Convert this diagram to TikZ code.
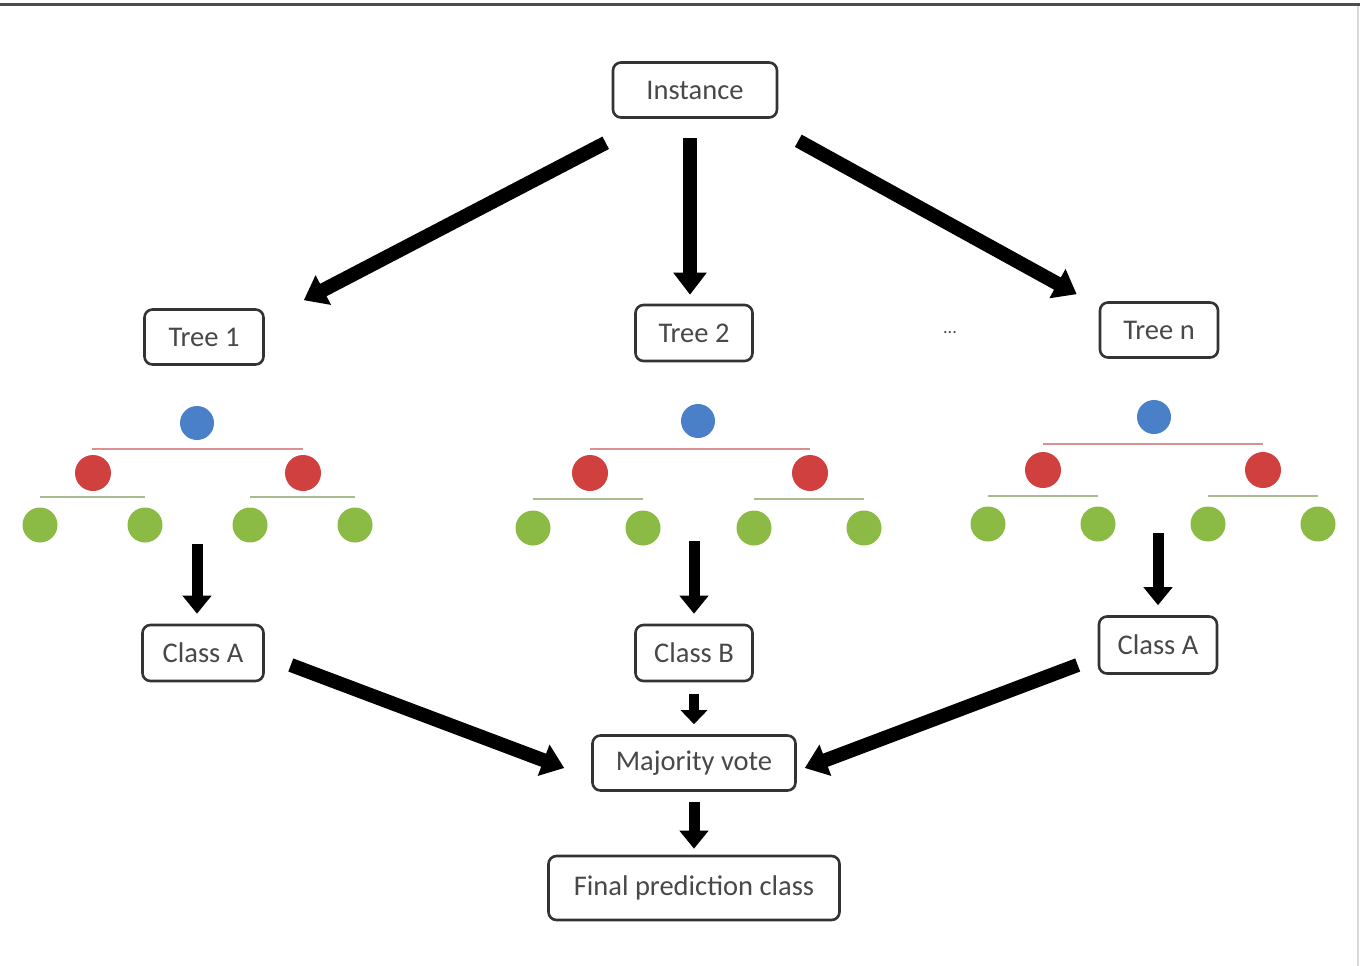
\documentclass[tikz,border=0pt]{standalone}
\usepackage{fontspec}
\setmainfont{Carlito}
\usetikzlibrary{arrows.meta}
\definecolor{txt}{HTML}{484848}
\definecolor{boxc}{HTML}{333333}
\definecolor{nblue}{HTML}{4A80C8}
\definecolor{nred}{HTML}{D0403F}
\definecolor{ngreen}{HTML}{8BBA45}
\definecolor{lred}{HTML}{D89090}
\definecolor{lgreen}{HTML}{A8BC90}
\tikzset{
  box/.style={draw=boxc, line width=2.6pt, rounded corners=8pt, fill=white, text=txt,
    font=\fontsize{28.5}{30}\selectfont, inner sep=0pt, anchor=center},
  big/.style={line width=14pt, -{Triangle[length=22pt,width=32pt]}},
  small/.style={line width=11pt, -{Triangle[length=18pt,width=28pt]}},
  tiny/.style={line width=10pt, -{Triangle[length=14pt,width=26pt]}},
  root/.style={circle, fill=nblue, minimum size=34pt, inner sep=0pt},
  mid/.style={circle, fill=nred, minimum size=36pt, inner sep=0pt},
  leaf/.style={circle, fill=ngreen, minimum size=35pt, inner sep=0pt},
  redline/.style={draw=lred, line width=2.2pt},
  greenline/.style={draw=lgreen, line width=2.2pt}
}
\begin{document}
\begin{tikzpicture}[x=1pt,y=-1pt]
\useasboundingbox (0,0) rectangle (1360,966);
\fill[white] (0,0) rectangle (1360,966);
\draw[draw=black!70, line width=3pt] (0,5) -- (1360,5);
\draw[draw=black!15, line width=1.5pt] (1358,6) -- (1358,966);

% boxes
\node[box, minimum width=164pt, minimum height=55pt] (inst) at (695,90) {Instance};
\node[box, minimum width=119pt, minimum height=55pt] (t1) at (204,337) {Tree 1};
\node[box, minimum width=117pt, minimum height=56pt] (t2) at (694,333) {Tree 2};
\node[text=txt, font=\fontsize{18}{20}\selectfont] (dots) at (950,333) {...};
\node[box, minimum width=118pt, minimum height=55pt] (tn) at (1159,330) {Tree n};
\node[box, minimum width=121pt, minimum height=56pt] (ca1) at (203,653) {Class A};
\node[box, minimum width=117pt, minimum height=56pt] (cb) at (694,653) {Class B};
\node[box, minimum width=118pt, minimum height=57pt] (ca2) at (1158,645) {Class A};
\node[box, minimum width=203pt, minimum height=55pt] (mv) at (694,763) {Majority vote};
\node[box, minimum width=291pt, minimum height=64pt] (fp) at (694,888) {Final prediction class};

% tree 1
\draw[redline] (92,449) -- (303,449);
\draw[greenline] (40,497) -- (145,497) (250,497) -- (355,497);
\node[root] (r1) at (197,423) {};
\node[mid] (m11) at (93,473) {};
\node[mid] (m12) at (303,473) {};
\node[leaf] (l11) at (40,525) {};
\node[leaf] (l12) at (145,525) {};
\node[leaf] (l13) at (250,525) {};
\node[leaf] (l14) at (355,525) {};
% tree 2
\draw[redline] (590,449) -- (810,449);
\draw[greenline] (533,499) -- (643,499) (754,499) -- (864,499);
\node[root] (r2) at (698,421) {};
\node[mid] (m21) at (590,473) {};
\node[mid] (m22) at (810,473) {};
\node[leaf] (l21) at (533,528) {};
\node[leaf] (l22) at (643,528) {};
\node[leaf] (l23) at (754,528) {};
\node[leaf] (l24) at (864,528) {};
% tree n
\draw[redline] (1043,444) -- (1263,444);
\draw[greenline] (988,496) -- (1098,496) (1208,496) -- (1318,496);
\node[root] (r3) at (1154,417) {};
\node[mid] (m31) at (1043,470) {};
\node[mid] (m32) at (1263,470) {};
\node[leaf] (l31) at (988,524) {};
\node[leaf] (l32) at (1098,524) {};
\node[leaf] (l33) at (1208,524) {};
\node[leaf] (l34) at (1318,524) {};

% arrows
\draw[big] ([shift={(-6,24)}]inst.south west) -- ([shift={(39,-8)}]t1.north east);
\draw[big] ([shift={(-5,19)}]inst.south) -- ([shift={(-4,-9)}]t2.north);
\draw[big] ([shift={(20,22)}]inst.south east) -- ([shift={(-22,-7)}]tn.north west);
\draw[small] ([shift={(-6,-80)}]ca1.north) -- ([shift={(-6,-10)}]ca1.north);
\draw[small] ([shift={(0,-83)}]cb.north) -- ([shift={(0,-10)}]cb.north);
\draw[small] ([shift={(0,-82)}]ca2.north) -- ([shift={(0,-10)}]ca2.north);
\draw[big] ([shift={(26,12)}]ca1.east) -- ([shift={(-27,5)}]mv.west);
\draw[tiny] ([shift={(0,12)}]cb.south) -- ([shift={(0,-10)}]mv.north);
\draw[big] ([shift={(-20,20)}]ca2.west) -- ([shift={(8,5)}]mv.east);
\draw[small] ([shift={(0,10)}]mv.south) -- ([shift={(0,-6)}]fp.north);
\end{tikzpicture}
\end{document}
